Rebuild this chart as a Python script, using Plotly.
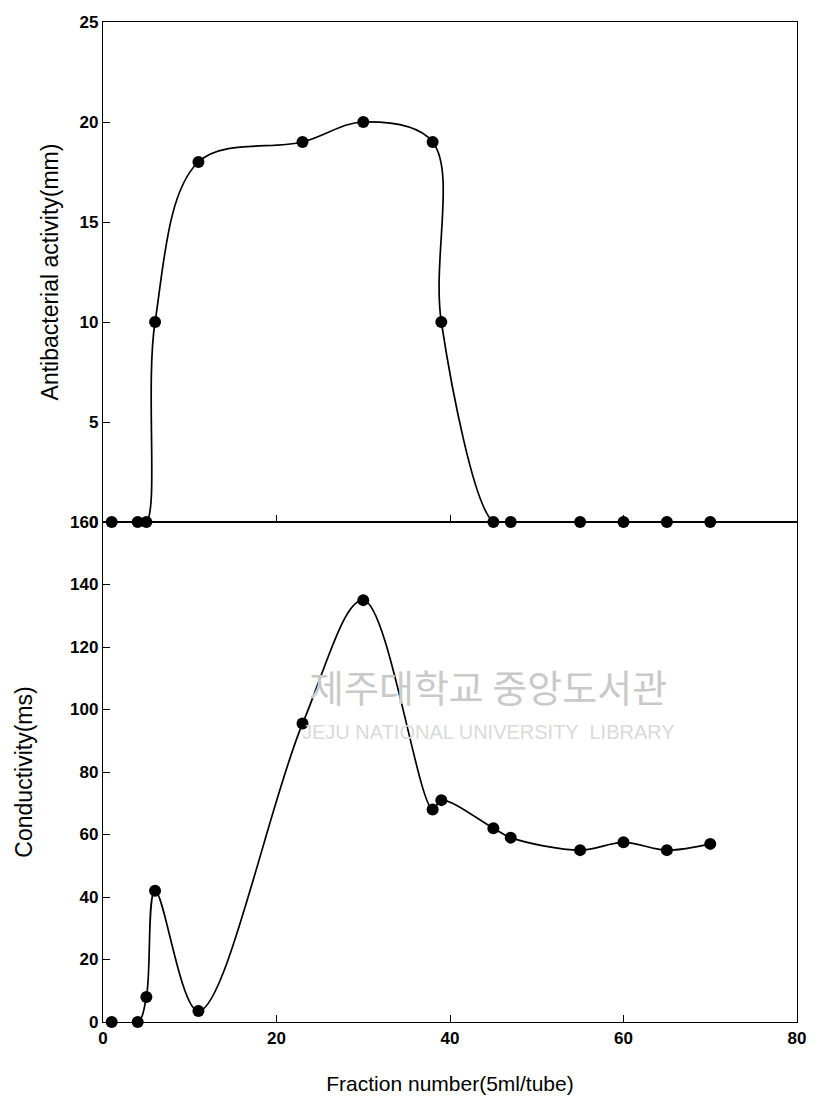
import plotly.graph_objects as go
from plotly.subplots import make_subplots

fraction = [1, 4, 5, 6, 11, 23, 30, 38, 39, 45, 47, 55, 60, 65, 70]
antibacterial_mm = [0, 0, 0, 10, 18, 19, 20, 19, 10, 0, 0, 0, 0, 0, 0]
conductivity_ms = [0, 0, 8, 42, 3.5, 95.5, 135, 68, 71, 62, 59, 55, 57.5, 55, 57]

x_ticks = [0, 20, 40, 60, 80]
top_ticks = [0, 5, 10, 15, 20, 25]
bottom_ticks = [0, 20, 40, 60, 80, 100, 120, 140, 160]

fig = make_subplots(rows=2, cols=1, shared_xaxes=True, vertical_spacing=0)

marker = dict(color="black", size=12)
line = dict(color="black", width=1.7, shape="spline", smoothing=1.0)

fig.add_trace(go.Scatter(x=fraction, y=antibacterial_mm, mode="lines+markers",
                         marker=marker, line=line, cliponaxis=False,
                         showlegend=False), row=1, col=1)
fig.add_trace(go.Scatter(x=fraction, y=conductivity_ms, mode="lines+markers",
                         marker=marker, line=line, cliponaxis=False,
                         showlegend=False), row=2, col=1)

tickfont = dict(family="Liberation Sans, Arial, sans-serif", size=17,
                color="black", weight="bold")
xtitlefont = dict(family="Liberation Sans, Arial, sans-serif", size=21,
                  color="black")
ytitlefont = dict(family="Liberation Sans, Arial, sans-serif", size=23,
                  color="black")

axis_common = dict(showline=True, linecolor="black", linewidth=1.4,
                   mirror=True, ticks="inside", ticklen=7, tickwidth=1.4,
                   tickcolor="black", showgrid=False, zeroline=False,
                   tickfont=tickfont)

fig.update_xaxes(range=[0, 80], tickvals=x_ticks, **axis_common)
fig.update_xaxes(showticklabels=False, row=1, col=1)
fig.update_xaxes(title=dict(text="Fraction number(5ml/tube)", font=xtitlefont,
                            standoff=29), row=2, col=1)

fig.update_yaxes(range=[0, 25], tickvals=top_ticks, row=1, col=1,
                 title=dict(text="Antibacterial activity(mm)", font=ytitlefont,
                            standoff=14),
                 **axis_common)
fig.update_yaxes(range=[0, 160], tickvals=bottom_ticks, row=2, col=1,
                 title=dict(text="Conductivity(ms)", font=ytitlefont,
                            standoff=30),
                 **axis_common)

fig.add_annotation(text="제주대학교 중앙도서관", xref="paper", yref="paper",
                   x=0.555, y=0.336,
                   xanchor="center", yanchor="middle", showarrow=False,
                   font=dict(family="Noto Sans CJK KR", size=38,
                             color="#c9c9c9"))
fig.add_annotation(text="JEJU NATIONAL UNIVERSITY  LIBRARY", xref="paper",
                   yref="paper", x=0.555, y=0.29,
                   xanchor="center", yanchor="middle", showarrow=False,
                   font=dict(family="Liberation Sans, sans-serif", size=20,
                             color="#dadada"))

fig.update_layout(width=803, height=1090,
                  margin=dict(l=95, r=11, t=5, b=76),
                  paper_bgcolor="white", plot_bgcolor="white")

fig.write_html("out.html")
